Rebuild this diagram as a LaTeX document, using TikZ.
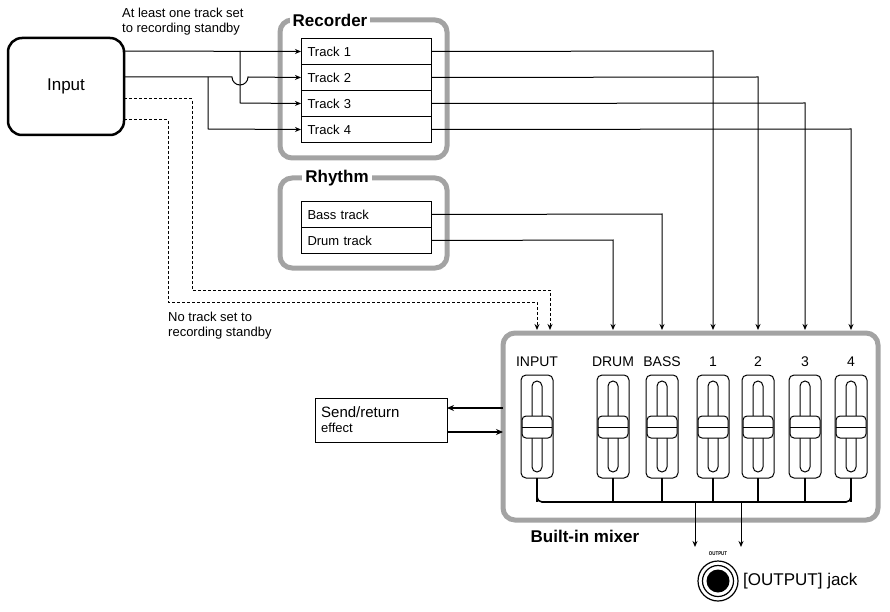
\documentclass[tikz,border=0pt]{standalone}
\usepackage{fontspec}
\setmainfont{Liberation Sans}
\usetikzlibrary{arrows.meta}
\definecolor{grayb}{HTML}{A3A3A3}
\begin{document}
\begin{tikzpicture}[x=1pt,y=-1pt,
  ln/.style={line width=1pt},
  arr/.style={ln,-{Stealth[length=6pt,width=5pt]}},
  dsh/.style={arr,dashed,dash pattern=on 3pt off 2pt},
  gbox/.style={draw=grayb,line width=5pt,rounded corners=12pt},
  trk/.style={draw,line width=1pt,minimum width=130pt,minimum height=26pt,anchor=north west,inner sep=0pt,font=\fontsize{13}{15}\selectfont,text width=118pt},
  glab/.style={fill=white,font=\bfseries\fontsize{17}{19}\selectfont,inner sep=3pt},
  txt/.style={font=\fontsize{13}{15}\selectfont,align=left,inner sep=0pt},
  flab/.style={font=\fontsize{14}{16}\selectfont,inner sep=0pt}]
\useasboundingbox (0,0) rectangle (890,612);
% Input
\node[draw,line width=2.5pt,rounded corners=14pt,minimum width=116pt,minimum height=97pt,font=\fontsize{17}{19}\selectfont] (in) at (66,86.5) {Input};
% Recorder
\draw[gbox] (280,20) rectangle (447,158);
\node[glab] (rec) at (330,20) {Recorder};
\node[trk] (t1) at (301,38) {Track 1};
\node[trk] (t2) at (301,64) {Track 2};
\node[trk] (t3) at (301,90) {Track 3};
\node[trk] (t4) at (301,116) {Track 4};
% Rhythm
\draw[gbox] (280,178) rectangle (447,268);
\node[glab] (rhy) at (337,178) {Rhythm};
\node[trk] (bt) at (301,201) {Bass track};
\node[trk] (dt) at (301,227) {Drum track};
% texts
\node[txt,anchor=west] (tA) at (122,22) {At least one track set\\to recording standby};
\node[txt,anchor=west] (tB) at (168,326) {No track set to\\recording standby};
% input routing
\draw[arr] (124,51) -- (t1.west);
\draw[arr] (240,51) -- (240,103) -- (t3.west);
\draw[arr] (124,77) -- (232,77) arc[start angle=180,end angle=0,radius=8] -- (t2.west);
\draw[arr] (208,77) -- (208,129) -- (t4.west);
% Mixer
\draw[gbox] (503,333) rectangle (878,520);
\coordinate (mx) at (0,330);
\foreach \x/\l in {537/INPUT,613/DRUM,662/BASS,713/1,758/2,805/3,851/4}{
  \node[flab] (L\l) at (\x,362) {\l};
  \draw[ln,rounded corners=5pt] (\x-16,375) rectangle (\x+16,478);
  \draw[ln,rounded corners=5pt] (\x-5,381) rectangle (\x+5,472);
  \draw[ln,fill=white,rounded corners=4pt] (\x-15,416) rectangle (\x+15,438);
  \draw[ln] (\x-15,427) -- (\x+15,427);
  \draw[line width=1.6pt] (\x,478) -- (\x,502);
}
\draw[line width=1.6pt,rounded corners=5pt] (537,490) -- (537,502) -- (851,502) -- (851,490);
\draw[arr] (695,502) -- (695,547);
\draw[arr] (741,502) -- (741,547);
% recorder to mixer
\draw[arr] (t1.east) -- (713,51) -- (713,330);
\draw[arr] (t2.east) -- (758,77) -- (758,330);
\draw[arr] (t3.east) -- (805,103) -- (805,330);
\draw[arr] (t4.east) -- (851,129) -- (851,330);
\draw[arr] (bt.east) -- (662,214) -- (662,330);
\draw[arr] (dt.east) -- (613,240) -- (613,330);
% dashed
\draw[dsh] (124,99) -- (192,99) -- (192,290) -- (550,290) -- (550,330);
\draw[dsh] (124,120) -- (168,120) -- (168,302) -- (537,302) -- (537,330);
% send/return
\node[draw,line width=1pt,minimum width=132pt,minimum height=44pt,anchor=north west,inner sep=0pt] (sr) at (315,398) {};
\node[txt,anchor=west] (srt) at (321,420) {\fontsize{15}{17}\selectfont Send/return\\effect};
\draw[line width=1.6pt,-{Stealth[length=7pt,width=6pt]}] (503,408) -- (447,408);
\draw[line width=1.6pt,-{Stealth[length=7pt,width=6pt]}] (447,432) -- (503,432);
% labels
\node[font=\bfseries\fontsize{17}{19}\selectfont] (bim) at (585,536) {Built-in mixer};
\node[font=\bfseries\fontsize{5.5}{6}\selectfont,xscale=0.8] (ol) at (718,554) {OUTPUT};
\draw[line width=1.2pt] (718,581) circle[radius=20];
\draw[line width=1.2pt] (718,581) circle[radius=15.5];
\fill (718,581) circle[radius=11.5];
\node[font=\fontsize{17}{19}\selectfont,anchor=west,inner sep=0pt] (jk) at (743,581) {[OUTPUT] jack};
\end{tikzpicture}
\end{document}
